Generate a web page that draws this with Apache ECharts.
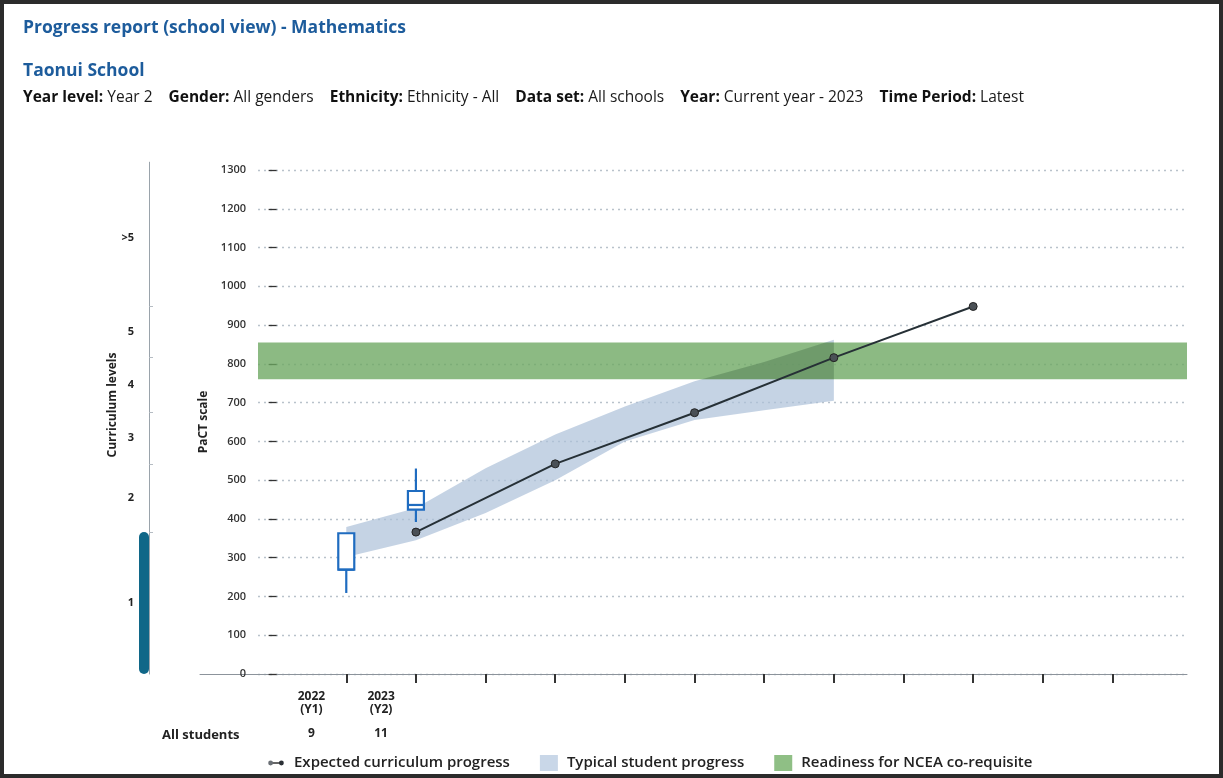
<!DOCTYPE html>
<html><head><meta charset="utf-8">
<script src="https://cdn.jsdelivr.net/npm/echarts@6/dist/echarts.min.js"></script>
<style>html,body{margin:0;padding:0;background:#fff}#c{width:1223px;height:778px}</style>
</head><body><div id="c"></div>
<script>
// ---- data ----
const yearPositions = [1, 2];
const yearLabels = ['2022\n(Y1)', '2023\n(Y2)'];
const studentCounts = [9, 11];
const xTickValues = [1, 2, 3, 4, 5, 6, 7, 8, 9, 10, 11, 12];
// [x, min, Q1, median, Q3, max]
const boxplotData = [
  [1, 209, 269, 269, 363, 363],
  [2, 392, 424, 436, 472, 530]
];
const expectedX = [2, 4, 6, 8, 10];
const expectedY = [366, 542, 674, 816, 948];
const typicalX = [1, 2, 3, 4, 5, 6, 7, 8];
const typicalLower = [302, 345, 415, 500, 600, 655, 680, 705];
const typicalUpper = [379, 428, 531, 618, 690, 755, 805, 862];
const readinessRange = [760, 855];
const curriculumBoundaries = [366, 542, 674, 816, 948];
const curriculumLevels = ['1', '2', '3', '4', '5', '>5'];
const currentLevelTop = 366;
const pactMin = 0, pactMax = 1300, pactStep = 100;

// ---- layout helpers ----
const FONT = "'Open Sans', 'Noto Sans', sans-serif";
const xMin = -1.1, xMax = 13.07;
const plotInset = 58; // y axis sits this far inside the x-axis line start
const levelEdges = [0].concat(curriculumBoundaries, [pactMax]);
const levelMids = curriculumLevels.map((_, i) => (levelEdges[i] + levelEdges[i + 1]) / 2);
const lineIconSvg = '<svg xmlns="http://www.w3.org/2000/svg" width="20" height="16" viewBox="0 0 20 16">' +
  '<line x1="4" y1="8" x2="16" y2="8" stroke="#333" stroke-width="1.6"/>' +
  '<circle cx="4" cy="8" r="2.7" fill="#6b7076"/><circle cx="16" cy="8" r="2.7" fill="#2b3036"/></svg>';
const lineIcon = 'image://data:image/svg+xml;charset=utf-8,' + encodeURIComponent(lineIconSvg);

const chart = echarts.init(document.getElementById('c'));

function boxRender(params, api) {
  const x = api.value(0);
  const lo = api.coord([x, api.value(1)]);
  const q1 = api.coord([x, api.value(2)]);
  const md = api.coord([x, api.value(3)]);
  const q3 = api.coord([x, api.value(4)]);
  const hi = api.coord([x, api.value(5)]);
  const w = 16;
  const st = { stroke: '#1f6cc0', lineWidth: 2.2, fill: null };
  return {
    type: 'group',
    children: [
      { type: 'line', shape: { x1: lo[0], y1: lo[1], x2: q1[0], y2: q1[1] }, style: st },
      { type: 'line', shape: { x1: q3[0], y1: q3[1], x2: hi[0], y2: hi[1] }, style: st },
      { type: 'rect', shape: { x: q3[0] - w / 2, y: q3[1], width: w, height: q1[1] - q3[1] },
        style: { stroke: '#1f6cc0', lineWidth: 2.2, fill: '#fff' } },
      { type: 'line', shape: { x1: md[0] - w / 2, y1: md[1], x2: md[0] + w / 2, y2: md[1] }, style: st }
    ]
  };
}

// typical-progress band, readiness band over it, and a darker overlap tint
function bandsRender(params, api) {
  if (params.dataIndex !== 0) return null;
  const cs = params.coordSys;
  const up = typicalX.map((x, i) => api.coord([x, typicalUpper[i]]));
  const lo = typicalX.map((x, i) => api.coord([x, typicalLower[i]])).reverse();
  const pts = up.concat(lo);
  const gTop = api.coord([typicalX[0], readinessRange[1]])[1];
  const gBot = api.coord([typicalX[0], readinessRange[0]])[1];
  const gRect = { x: cs.x + plotInset, y: gTop, width: cs.width - plotInset, height: gBot - gTop };
  return {
    type: 'group',
    children: [
      { type: 'polygon', z2: 1, shape: { points: pts },
        style: { fill: 'rgba(172,192,216,0.7)', stroke: null } },
      { type: 'rect', z2: 10, shape: gRect,
        style: { fill: 'rgba(108,166,96,0.78)' } },
      { type: 'polygon', z2: 20, shape: { points: pts },
        clipPath: { type: 'rect', shape: gRect },
        style: { fill: 'rgba(40,60,30,0.18)', stroke: null } }
    ]
  };
}

const option = {
  backgroundColor: '#fff',
  animation: false,
  textStyle: { fontFamily: FONT },
  grid: [
    { left: 200, right: 36, top: 170, bottom: 104 },
    { left: 139, width: 10, top: 162.2, bottom: 104 },
    { left: 200 + plotInset, right: 36, top: 170, bottom: 104 }
  ],
  xAxis: [
    { gridIndex: 0, type: 'value', min: xMin, max: xMax, offset: 6,
      axisLine: { show: true, lineStyle: { color: '#8c939b', width: 1 } },
      axisTick: { show: true, customValues: xTickValues, length: 9, lineStyle: { color: '#333', width: 2 } },
      axisLabel: { show: false }, splitLine: { show: false } },
    { gridIndex: 0, type: 'value', min: xMin + 0.5, max: xMax + 0.5, position: 'bottom', offset: 6,
      axisLine: { show: false }, axisTick: { show: false }, splitLine: { show: false },
      axisLabel: { customValues: yearPositions, margin: 10, fontSize: 12, fontWeight: 700, color: '#222', lineHeight: 13, fontFamily: FONT,
        formatter: v => { const i = yearPositions.indexOf(v); return i >= 0 ? yearLabels[i] : ''; } } },
    { gridIndex: 0, type: 'value', min: xMin + 0.5, max: xMax + 0.5, position: 'bottom', offset: 6,
      axisLine: { show: false }, axisTick: { show: false }, splitLine: { show: false },
      axisLabel: { customValues: yearPositions, margin: 48, fontSize: 12, fontWeight: 700, color: '#222', fontFamily: FONT,
        formatter: v => { const i = yearPositions.indexOf(v); return i >= 0 ? String(studentCounts[i]) : ''; } } },
    { gridIndex: 2, type: 'value', min: 0, max: 1, show: false },
    { gridIndex: 1, type: 'category', data: [''], show: false }
  ],
  yAxis: [
    { gridIndex: 0, type: 'value', min: pactMin, max: pactMax, interval: pactStep, offset: -plotInset,
      axisLine: { show: false },
      axisTick: { show: true, length: 8, lineStyle: { color: '#333', width: 1.3 } },
      axisLabel: { margin: 12, fontSize: 11, fontWeight: 600, color: '#333', fontFamily: FONT, formatter: v => String(v) },
      splitLine: { show: false },
      name: 'PaCT scale', nameLocation: 'middle', nameGap: 46,
      nameTextStyle: { fontSize: 12, fontWeight: 700, color: '#222', fontFamily: FONT } },
    { gridIndex: 2, type: 'value', min: pactMin, max: pactMax, interval: pactStep,
      axisLine: { show: false }, axisTick: { show: false }, axisLabel: { show: false },
      splitLine: { show: true, lineStyle: { type: [2, 4], color: '#b9c2cb', width: 1.3 } } },
    { gridIndex: 1, type: 'value', min: 0, max: 1320, position: 'right',
      axisLine: { show: true, lineStyle: { color: '#9aa3ab', width: 1 } },
      axisTick: { show: true, customValues: curriculumBoundaries, length: 4, lineStyle: { color: '#b5bcc3', width: 1 } },
      axisLabel: { inside: true, customValues: levelMids, margin: 15, fontSize: 11, fontWeight: 700, color: '#222', fontFamily: FONT,
        formatter: v => { const i = levelMids.indexOf(v); return i >= 0 ? curriculumLevels[i] : ''; } },
      splitLine: { show: false } }
  ],
  legend: {
    left: 262, top: 750, itemWidth: 18, itemHeight: 16, itemGap: 30,
    textStyle: { fontSize: 15, fontWeight: 600, color: '#222', fontFamily: FONT, padding: [0, 0, 0, 4] },
    data: [
      { name: 'Expected curriculum progress', icon: lineIcon },
      { name: 'Typical student progress', icon: 'rect' },
      { name: 'Readiness for NCEA co-requisite', icon: 'rect' }
    ]
  },
  graphic: [
    { type: 'text', x: 23, y: 28, style: { text: 'Progress report (school view) - Mathematics', fontSize: 17.5, fontWeight: 700, fill: '#1d5c9c', fontFamily: FONT, verticalAlign: 'middle' } },
    { type: 'text', x: 23, y: 71, style: { text: 'Taonui School', fontSize: 17.5, fontWeight: 700, fill: '#1d5c9c', fontFamily: FONT, verticalAlign: 'middle' } },
    { type: 'text', x: 23, y: 98, style: {
        text: '{b|Year level:} {n|Year 2}{g|}{b|Gender:} {n|All genders}{g|}{b|Ethnicity:} {n|Ethnicity - All}{g|}{b|Data set:} {n|All schools}{g|}{b|Year:} {n|Current year - 2023}{g|}{b|Time Period:} {n|Latest}',
        verticalAlign: 'middle', fontSize: 15.5, fontFamily: FONT,
        rich: { b: { fontSize: 15.5, fontWeight: 700, fill: '#111', fontFamily: FONT },
                n: { fontSize: 15.5, fontWeight: 500, fill: '#1a1a1a', fontFamily: FONT },
                g: { width: 16 } } } },
    { type: 'text', x: 113, y: 405, rotation: Math.PI / 2, style: { text: 'Curriculum levels', fontSize: 12, fontWeight: 700, fill: '#222', fontFamily: FONT, align: 'center', verticalAlign: 'middle' } },
    { type: 'text', x: 162, y: 735, style: { text: 'All students', fontSize: 13, fontWeight: 700, fill: '#222', fontFamily: FONT, verticalAlign: 'middle' } },
    { type: 'rect', silent: true, z: 100, shape: { x: 2, y: 2, width: 1219, height: 774 }, style: { fill: null, stroke: '#2b2b2b', lineWidth: 4 } }
  ],
  series: [
    { name: 'Typical student progress', type: 'custom', xAxisIndex: 0, yAxisIndex: 0, z: 2,
      itemStyle: { color: '#c9d7e8' }, renderItem: bandsRender,
      data: typicalX.map((x, i) => [x, typicalLower[i], typicalUpper[i]]) },
    { name: 'Readiness for NCEA co-requisite', type: 'line', xAxisIndex: 0, yAxisIndex: 0, data: [],
      itemStyle: { color: '#8fbf85' } },
    { name: 'Expected curriculum progress', type: 'line', xAxisIndex: 0, yAxisIndex: 0, z: 6,
      symbol: 'circle', symbolSize: 8,
      lineStyle: { color: '#263036', width: 2 },
      itemStyle: { color: '#4a5056', borderColor: '#222', borderWidth: 1 },
      data: expectedX.map((x, i) => [x, expectedY[i]]) },
    { name: 'School results', type: 'custom', xAxisIndex: 0, yAxisIndex: 0, z: 7,
      renderItem: boxRender, data: boxplotData },
    { name: 'Current level', type: 'bar', xAxisIndex: 4, yAxisIndex: 2, barWidth: 10, z: 3,
      itemStyle: { color: '#106788', borderRadius: 5 }, data: [currentLevelTop] }
  ]
};
chart.setOption(option);
</script></body></html>
